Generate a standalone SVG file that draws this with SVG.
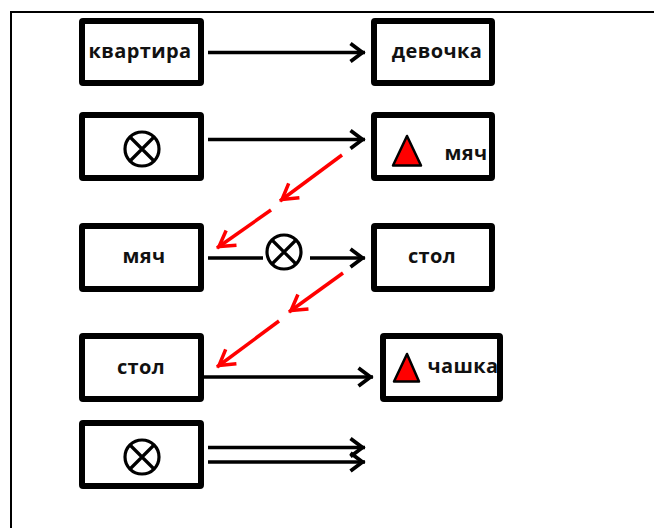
<svg xmlns="http://www.w3.org/2000/svg" width="654" height="528" viewBox="0 0 654 528">
<style>
.box{fill:#fff;stroke:#000;stroke-width:6;stroke-linejoin:round}
.t{font-family:"Open Sans","DejaVu Sans",sans-serif;font-weight:700;font-size:20px;letter-spacing:.4px;fill:#111;text-anchor:middle}
.c{fill:none;stroke:#000;stroke-width:3.200}
.tri{fill:#f00;stroke:#000;stroke-width:2.500;stroke-linejoin:round}
.k{fill:none;stroke:#000;stroke-width:3.400}
.r{fill:none;stroke:#f00;stroke-width:3.500}
</style>
<defs>
<marker id="ah" markerUnits="userSpaceOnUse" markerWidth="20" markerHeight="24" refX="17.500" refY="12" orient="auto" overflow="visible"><path d="M3 3L15 12L3 21" fill="none" stroke="#000" stroke-width="3.800"/></marker>
<marker id="rh" markerUnits="userSpaceOnUse" markerWidth="24" markerHeight="24" refX="20.500" refY="12" orient="auto" overflow="visible"><path d="M3 3L18 12L3 21" fill="none" stroke="#f00" stroke-width="3.500"/></marker>
<g id="x"><circle r="17" class="c"/><path d="M-12-12L12 12M12-12L-12 12" class="c"/></g>
</defs>
<rect width="654" height="528" fill="#fff"/>
<path id="frame" d="M11 528V12H654" fill="none" stroke="#000" stroke-width="2"/>
<g id="n1"><rect class="box" x="82" y="21" width="119" height="62" rx="1"/><text class="t" x="140" y="58">квартира</text></g>
<g id="n2"><rect class="box" x="82" y="115" width="119" height="63" rx="1"/><use href="#x" x="142" y="149"/></g>
<g id="n3"><rect class="box" x="82" y="226" width="119" height="63" rx="1"/><text class="t" x="144" y="263">мяч</text></g>
<g id="n4"><rect class="box" x="82" y="336" width="119" height="63" rx="1"/><text class="t" x="141" y="374">стол</text></g>
<g id="n5"><rect class="box" x="82" y="423" width="119" height="63" rx="1"/><use href="#x" x="142" y="457"/></g>
<g id="n6"><rect class="box" x="374" y="21" width="118" height="62" rx="1"/><text class="t" x="437" y="58">девочка</text></g>
<g id="n7"><rect class="box" x="374" y="115" width="118" height="63" rx="1"/><path class="tri" d="M407 136L421 165.500H393Z"/><text class="t" x="466" y="160">мяч</text></g>
<g id="n8"><rect class="box" x="374" y="226" width="118" height="63" rx="1"/><text class="t" x="432" y="263">стол</text></g>
<g id="n9"><rect class="box" x="383" y="336" width="117" height="63" rx="1"/><path class="tri" d="M407 354L419 381.500H394Z"/><text class="t" x="463" y="373">чашка</text></g>
<use id="n10" href="#x" x="284" y="252"/>
<g id="connectors">
<path class="k" marker-end="url(#ah)" d="M208 52.500H365"/>
<path class="k" marker-end="url(#ah)" d="M208 139.500H365"/>
<path class="k" d="M208 258H263"/>
<path class="k" marker-end="url(#ah)" d="M310 258H365"/>
<path class="k" marker-end="url(#ah)" d="M204 377H373"/>
<path class="k" marker-end="url(#ah)" d="M208 447.500H365"/>
<path class="k" marker-end="url(#ah)" d="M208 462H365"/>
<path class="r" marker-end="url(#rh)" d="M342 155L280 201"/>
<path class="r" marker-end="url(#rh)" d="M271 210L217 248"/>
<path class="r" marker-end="url(#rh)" d="M343 273L289 312"/>
<path class="r" marker-end="url(#rh)" d="M279 321L217 367"/>
</g>
</svg>
